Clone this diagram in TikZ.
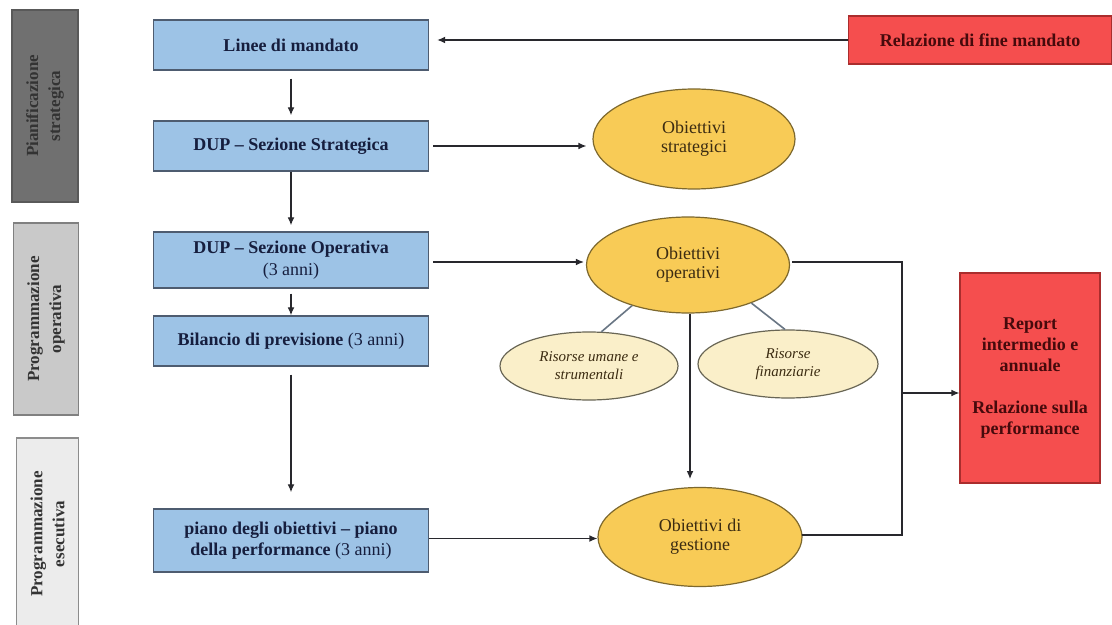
\documentclass[tikz,border=0pt]{standalone}
\usepackage{fontspec}
\setmainfont{Liberation Serif}
\usetikzlibrary{arrows.meta,shapes.geometric}

\definecolor{boxblue}{RGB}{157,195,230}
\definecolor{boxline}{RGB}{78,92,112}
\definecolor{navytext}{RGB}{22,30,62}
\definecolor{objyellow}{RGB}{248,203,86}
\definecolor{objline}{RGB}{125,104,45}
\definecolor{objtext}{RGB}{60,44,18}
\definecolor{respale}{RGB}{250,239,201}
\definecolor{resline}{RGB}{105,102,85}
\definecolor{boxred}{RGB}{245,78,78}
\definecolor{redline}{RGB}{170,45,45}
\definecolor{redtext}{RGB}{70,10,12}
\definecolor{phasedark}{RGB}{112,112,112}
\definecolor{phasemid}{RGB}{201,201,201}
\definecolor{phaselight}{RGB}{236,236,236}
\definecolor{arrline}{RGB}{40,40,45}
\definecolor{thinline}{RGB}{105,118,132}

\tikzset{
  blubox/.style={draw=boxline, fill=boxblue, line width=0.7pt, minimum width=137.5pt,
    inner sep=0pt, align=center, text=navytext, font=\bfseries\fontsize{9}{10.8}\selectfont},
  obj/.style={ellipse, draw=objline, fill=objyellow, line width=0.6pt, inner sep=0pt,
    align=center, text=objtext, font=\fontsize{9}{9.6}\selectfont},
  res/.style={ellipse, draw=resline, fill=respale, line width=0.6pt, inner sep=0pt,
    minimum height=34pt, align=center, text=objtext, font=\itshape\fontsize{7.5}{9}\selectfont},
  redbox/.style={draw=redline, fill=boxred, line width=0.6pt, inner sep=0pt, align=center,
    text=redtext, font=\bfseries\fontsize{9}{10.5}\selectfont},
  phase/.style={rotate=90, minimum width=96pt, inner sep=0pt, align=center, line width=0.7pt,
    font=\bfseries\fontsize{8.5}{11}\selectfont},
  arr/.style={-{Latex[length=4pt,width=3.4pt]}, line width=0.6pt, draw=arrline},
}

\begin{document}
\begin{tikzpicture}[x=0.5pt,y=-0.5pt]
\useasboundingbox[fill=white] (0,0) rectangle (1112,625);

% fasi
\node[phase, fill=phasedark, draw=black!65, text=black!80, minimum height=33pt] (pianif) at (45,106) {Pianificazione\\strategica};
\node[phase, fill=phasemid, draw=black!50, text=black!80, minimum height=32.5pt] (progop) at (46,319) {Programmazione\\operativa};
\node[phase, fill=phaselight, draw=black!45, text=black!80, minimum height=31pt] (progese) at (47.5,534) {Programmazione\\esecutiva};

% colonna documenti
\node[blubox, minimum height=25pt] (linee) at (291,45) {Linee di mandato};
\node[blubox, minimum height=25pt] (dupss) at (291,146) {DUP -- Sezione Strategica};
\node[blubox, minimum height=28pt] (dupso) at (291,260) {DUP -- Sezione Operativa\\\mdseries(3 anni)};
\node[blubox, minimum height=25pt] (bilancio) at (291,341) {Bilancio di previsione \mdseries(3 anni)};
\node[blubox, minimum height=31.5pt] (piano) at (291,540.5) {piano degli obiettivi -- piano\\della performance \mdseries(3 anni)};

% obiettivi e risorse
\node[obj, minimum width=101pt, minimum height=50pt] (strategici) at (694,139) {Obiettivi\\strategici};
\node[obj, minimum width=101.5pt, minimum height=48pt] (operativi) at (688,265) {Obiettivi\\operativi};
\node[obj, minimum width=102pt, minimum height=49.5pt] (gestione) at (700,537) {Obiettivi di\\gestione};
\node[res, minimum width=89pt] (umane) at (589,366) {Risorse umane e\\strumentali};
\node[res, minimum width=90pt] (finanz) at (788,364) {Risorse\\finanziarie};

% rendicontazione
\node[redbox, minimum width=131.5pt, minimum height=24pt] (relfine) at (980,40) {Relazione di fine mandato};
\node[redbox, minimum width=70pt, minimum height=105pt] (report) at (1030,378) {Report\\intermedio e\\annuale\\[10.5pt]Relazione sulla\\performance};
\coordinate (nodo) at (902,393);

% frecce
\draw[arr, shorten >=4pt] (relfine.west) -- (relfine.west -| linee.east);
\draw[arr, shorten <=4pt, shorten >=2.5pt] (linee) -- (dupss);
\draw[arr, shorten >=3pt] (dupss) -- (dupso);
\draw[arr, shorten <=2.5pt] (dupso) -- (bilancio);
\draw[arr, shorten <=4pt, shorten >=8pt] (bilancio) -- (piano);
\draw[arr, shorten <=2pt, shorten >=3pt] (dupss.east) -- (dupss.east -| strategici.west);
\draw[arr, shorten <=2pt, shorten >=1pt] (dupso.east) ++(0,2) -- (operativi.west |- 0,262);
\draw[arr] (piano.east) ++(0,-2) -- (gestione.west |- 0,538.5);
\draw[arr, shorten >=4.5pt] (operativi.south) ++(2,0) -- (690,488);
\draw[thinline, line width=0.8pt] (operativi.216) -- (umane.70);
\draw[thinline, line width=0.8pt] (operativi.-31) -- (finanz.95);
\draw[arrline, line width=0.6pt] (operativi.east) ++(2,-3) -- (nodo |- 0,262) -- (nodo |- 0,535) -- (802,535);
\draw[arr] (nodo) -- (nodo -| report.west);
\end{tikzpicture}
\end{document}
